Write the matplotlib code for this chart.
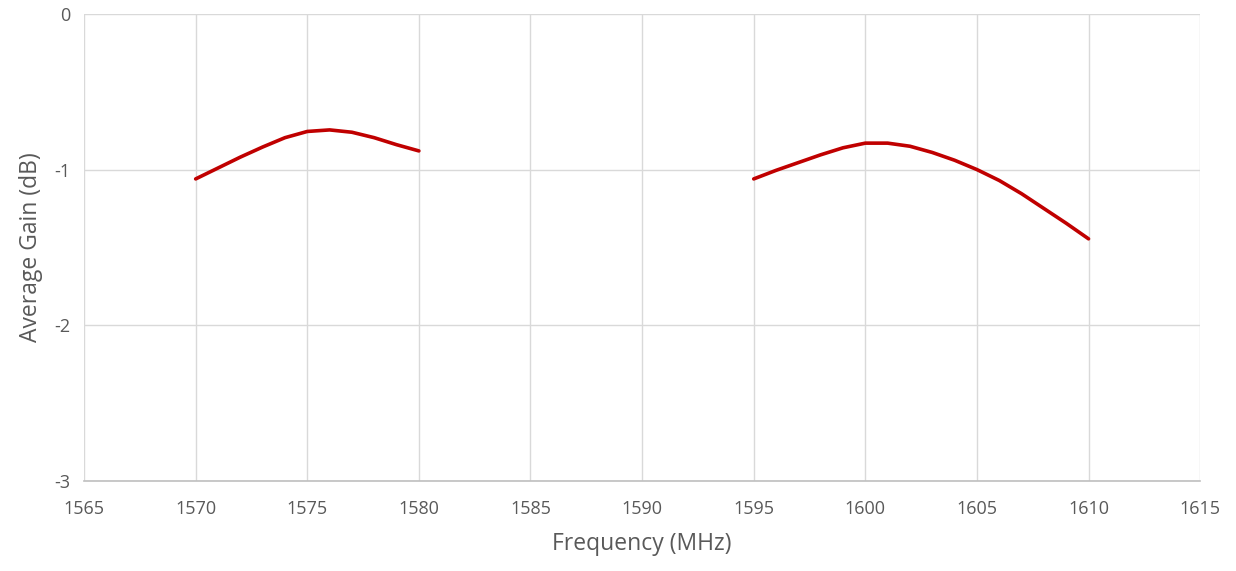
import matplotlib
matplotlib.use("Agg")
import matplotlib.pyplot as plt

# band 1 (L1) gain readings
freq_low = [1570, 1571, 1572, 1573, 1574, 1575, 1576, 1577, 1578, 1579, 1580]
gain_low = [-1.06, -0.99, -0.92, -0.855, -0.795, -0.755, -0.745, -0.76, -0.795, -0.84, -0.88]

# band 2 gain readings
freq_high = [1595, 1596, 1597, 1598, 1599, 1600, 1601, 1602, 1603, 1604,
             1605, 1606, 1607, 1608, 1609, 1610]
gain_high = [-1.06, -1.005, -0.955, -0.905, -0.86, -0.83, -0.83, -0.85, -0.89, -0.94,
             -1.00, -1.07, -1.155, -1.25, -1.345, -1.445]

x_ticks = [1565, 1570, 1575, 1580, 1585, 1590, 1595, 1600, 1605, 1610, 1615]
y_ticks = [0, -1, -2, -3]

text_gray = "#595959"
plt.rcParams['font.family'] = ['Open Sans', 'DejaVu Sans']

fig = plt.figure(figsize=(12.36, 5.71), dpi=100)
ax = fig.add_axes([0.068, 0.158, 0.903, 0.8175])

for fx, gy in [(freq_low, gain_low), (freq_high, gain_high)]:
    ax.plot(fx, gy, color="#C00000", linewidth=2.6,
            solid_capstyle="round", solid_joinstyle="round")

ax.set_xlim(1565, 1615)
ax.set_ylim(-3, 0)
ax.set_xticks(x_ticks)
ax.set_yticks(y_ticks)
ax.set_yticklabels([str(v) for v in y_ticks])
ax.grid(True, color="#d9d9d9", linewidth=1)
ax.set_axisbelow(True)

for side in ["top", "right", "left"]:
    ax.spines[side].set_visible(False)
ax.spines["bottom"].set_color("#bfbfbf")
ax.spines["bottom"].set_linewidth(1.2)

ax.tick_params(axis="both", length=0, labelsize=13, colors=text_gray)
ax.tick_params(axis="x", pad=14)
ax.tick_params(axis="y", pad=10)

ax.set_xlabel("Frequency (MHz)", fontsize=16.5, color=text_gray, labelpad=10)
ax.set_ylabel("Average Gain (dB)", fontsize=16.5, color=text_gray, labelpad=8)

plt.savefig("out.png", dpi=100)
